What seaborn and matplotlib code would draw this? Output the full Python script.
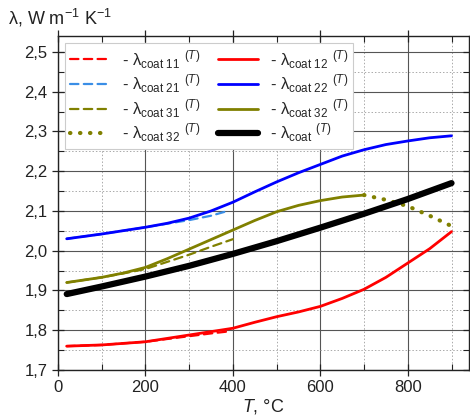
import numpy as np
import pandas as pd
import seaborn as sns
import matplotlib
matplotlib.use("Agg")
import matplotlib.pyplot as plt
from matplotlib.ticker import MultipleLocator, FuncFormatter

# ---- data ----
T12 = [20, 100, 200, 300, 400, 450, 500, 550, 600, 650, 700, 750, 800, 850, 900]
L12 = [1.760, 1.763, 1.771, 1.788, 1.805, 1.820, 1.834, 1.846, 1.860, 1.880,
       1.903, 1.933, 1.969, 2.005, 2.048]
T11 = [20, 100, 200, 250, 300, 350, 390]
L11 = [1.760, 1.763, 1.771, 1.778, 1.785, 1.792, 1.797]

T22 = [20, 100, 200, 250, 300, 350, 400, 450, 500, 550, 600, 650, 700, 750, 800, 850, 900]
L22 = [2.030, 2.042, 2.059, 2.069, 2.082, 2.100, 2.122, 2.148, 2.173, 2.196,
       2.217, 2.238, 2.254, 2.267, 2.276, 2.284, 2.289]
T21 = [20, 100, 200, 250, 300, 350, 388]
L21 = [2.030, 2.042, 2.059, 2.068, 2.077, 2.088, 2.100]

T32 = [20, 100, 150, 200, 250, 300, 350, 400, 450, 500, 550, 600, 650, 700]
L32 = [1.920, 1.933, 1.944, 1.958, 1.980, 2.004, 2.028, 2.052, 2.076, 2.098,
       2.114, 2.126, 2.135, 2.140]
T31 = [20, 100, 150, 200, 250, 300, 350, 400]
L31 = [1.920, 1.933, 1.943, 1.954, 1.972, 1.990, 2.010, 2.029]
T32d = [700, 750, 800, 850, 900]
L32d = [2.140, 2.128, 2.112, 2.088, 2.062]

Tc = [20, 100, 200, 300, 400, 500, 600, 700, 800, 900]
Lc = [1.891, 1.910, 1.935, 1.962, 1.992, 2.024, 2.058, 2.093, 2.130, 2.170]

labels = ["coat\\ 11", "coat\\ 21", "coat\\ 31", "coat\\ 32",
          "coat\\ 12", "coat\\ 22", "coat\\ 32", "coat"]

sns.set_theme(style="white")
plt.rcParams['font.family'] = ['Liberation Sans', 'DejaVu Sans']
plt.rcParams['mathtext.fontset'] = 'custom'
plt.rcParams['mathtext.rm'] = 'Liberation Sans'
plt.rcParams['mathtext.it'] = 'Liberation Sans:italic'
plt.rcParams['mathtext.sf'] = 'Liberation Sans'

fig = plt.figure(figsize=(4.7, 4.17), dpi=100)
ax = fig.add_axes([58/470, 47/417, 411/470, 334/417])


def lab(s):
    return r"- λ$_{\mathrm{" + s + r"}}$ $^{(\mathit{T})}$"


dash = (0, (3.8, 2.4))
series = [
    (T11, L11, "#ff0000", dash, 1.6, labels[0], 2),
    (T21, L21, "#3a8ee6", dash, 1.6, labels[1], 2),
    (T31, L31, "#808000", dash, 1.6, labels[2], 2),
    (T32d, L32d, "#808000", (0, (0.1, 2.3)), 3.0, labels[3], 3),
    (T12, L12, "#ff0000", "-", 2.0, labels[4], 3),
    (T22, L22, "#0000ff", "-", 2.0, labels[5], 3),
    (T32, L32, "#808000", "-", 2.0, labels[6], 3),
    (Tc, Lc, "#000000", "-", 4.5, labels[7], 4),
]

for T, L, c, ls, lw, name, z in series:
    df = pd.DataFrame({"T": T, "L": L})
    sns.lineplot(data=df, x="T", y="L", ax=ax, color=c, linestyle=ls,
                 linewidth=lw, label=lab(name), zorder=z,
                 dash_capstyle="round", solid_capstyle="round")

ax.set_xlim(0, 940)
ax.set_ylim(1.7, 2.54)
ax.xaxis.set_major_locator(MultipleLocator(200))
ax.xaxis.set_minor_locator(MultipleLocator(100))
ax.yaxis.set_major_locator(MultipleLocator(0.1))
ax.yaxis.set_minor_locator(MultipleLocator(0.05))
ax.yaxis.set_major_formatter(FuncFormatter(lambda v, p: f"{v:.1f}".replace(".", ",")))
ax.xaxis.set_major_formatter(FuncFormatter(lambda v, p: f"{v:.0f}"))

ax.grid(which="major", color="#555555", linewidth=0.8, linestyle="-")
ax.grid(which="minor", color="#aaaaaa", linewidth=0.7, linestyle=(0, (1.5, 2)))
ax.set_axisbelow(True)

for s in ax.spines.values():
    s.set_color("#222222")
    s.set_linewidth(1.0)

ax.tick_params(which="major", direction="inout", length=8, width=0.9,
               colors="#222222", labelsize=12, labelcolor="#222222",
               top=True, right=True, bottom=True, left=True)
ax.tick_params(which="minor", direction="in", length=4, width=0.8,
               colors="#222222", top=True, right=True, bottom=True, left=True)
ax.tick_params(axis="x", which="both", labeltop=False)
ax.tick_params(axis="y", which="both", labelright=False)

ax.set_xlabel(r"$\mathit{T}$, °C", fontsize=13, color="#222222", labelpad=1)
ax.set_ylabel("")
fig.text(8/470, 1 - 18/417, r"λ, W m$^{-1}$ K$^{-1}$", fontsize=13,
         color="#222222", va="center", ha="left")

leg = ax.legend(loc="upper left", bbox_to_anchor=(7/411, 1 - 7/334), ncol=2,
                fontsize=12, frameon=True, fancybox=False, edgecolor="#cccccc",
                framealpha=1, handlelength=2.4, columnspacing=1.1,
                labelspacing=0.12, borderaxespad=0.0, borderpad=0.3,
                handletextpad=0.7)
leg.get_frame().set_linewidth(0.8)

fig.savefig("out.png", dpi=100)
